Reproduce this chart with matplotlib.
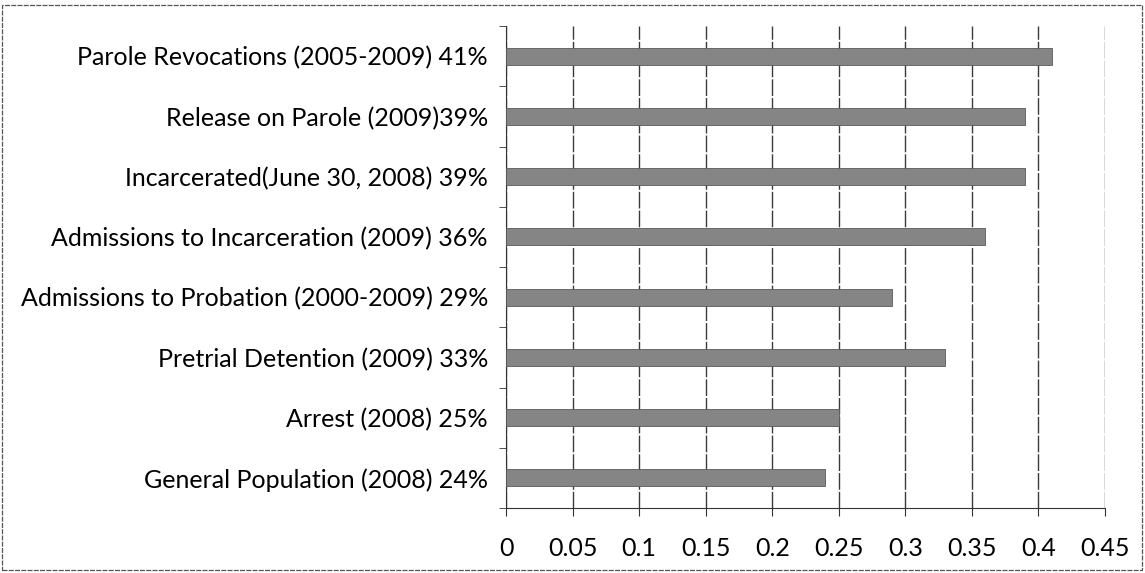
import matplotlib.pyplot as plt
from matplotlib.patches import Rectangle
import numpy as np

# categories listed bottom to top, as drawn on the y axis
categories = [
    "General Population (2008) 24%",
    "Arrest (2008) 25%",
    "Pretrial Detention (2009) 33%",
    "Admissions to Probation (2000-2009) 29%",
    "Admissions to Incarceration (2009) 36%",
    "Incarcerated(June 30, 2008) 39%",
    "Release on Parole (2009)39%",
    "Parole Revocations (2005-2009) 41%",
]
shares = [0.24, 0.25, 0.33, 0.29, 0.36, 0.39, 0.39, 0.41]
xticks = [0, 0.05, 0.1, 0.15, 0.2, 0.25, 0.3, 0.35, 0.4, 0.45]
xticklabels = ["0", "0.05", "0.1", "0.15", "0.2", "0.25", "0.3", "0.35", "0.4", "0.45"]

plt.rcParams['font.family'] = ['Lato', 'DejaVu Sans']

fig = plt.figure(figsize=(11.45, 5.73), dpi=100)
W, H = 1145, 573
left, right, top, bottom = 506, 1105, 26, 508
ax = fig.add_axes([left / W, 1 - bottom / H, (right - left) / W, (bottom - top) / H])

y = np.arange(len(categories))
ax.barh(y, shares, height=0.28, color='#858585', edgecolor='#5a5a5a',
        linewidth=0.6, zorder=3)

ax.set_xlim(0, 0.45)
ax.set_ylim(-0.5, len(categories) - 0.5)

ax.set_xticks(xticks)
ax.set_xticklabels(xticklabels, fontsize=18)
ax.set_yticks(y)
ax.set_yticklabels(categories, fontsize=18)
ax.set_yticks(np.arange(-0.5, len(categories)), minor=True)

ax.tick_params(axis='y', which='major', length=0, pad=13)
ax.tick_params(axis='y', which='minor', length=5, direction='out', color='#333333')
ax.tick_params(axis='x', length=6, direction='out', pad=15, color='#333333')

ax.grid(axis='x', color='#3a3a3a', linewidth=1.0, linestyle=(0, (12, 1.5)), zorder=1)
ax.set_axisbelow(True)

for side in ['top', 'right']:
    ax.spines[side].set_visible(False)
ax.spines['left'].set_color('#333333')
ax.spines['bottom'].set_color('#333333')
ax.spines['bottom'].set_linestyle((0, (4, 1)))

# outer chart frame
fig.patches.append(Rectangle((2 / W, 3 / H), 1140 / W, 565 / H, transform=fig.transFigure,
                             fill=False, edgecolor='#555555', linewidth=0.9,
                             linestyle=(0, (4, 1))))

fig.savefig('out.png', dpi=100)
